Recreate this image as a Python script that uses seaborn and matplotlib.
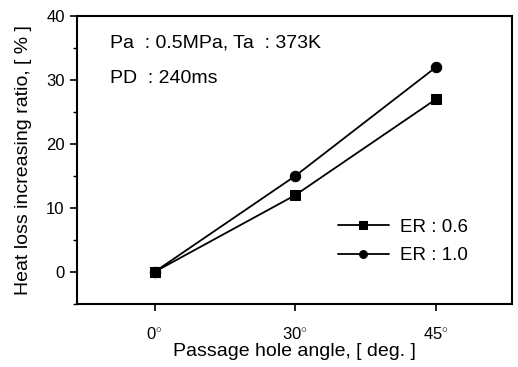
import matplotlib
matplotlib.use("Agg")
import matplotlib.pyplot as plt
from matplotlib.ticker import MultipleLocator
import seaborn as sns
import pandas as pd

angles = ["0$^{\\circ}$", "30$^{\\circ}$", "45$^{\\circ}$"]
er_06 = [0, 12, 27]
er_10 = [0, 15, 32]
series_labels = ["ER : 0.6", "ER : 1.0"]

sns.set_theme(style="ticks")
plt.rcParams["font.family"] = ["Liberation Sans", "DejaVu Sans"]
plt.rcParams["mathtext.fontset"] = "custom"
plt.rcParams["mathtext.rm"] = "Liberation Sans"

df = pd.DataFrame({
    "pos": list(range(len(angles))) * 2,
    "value": er_06 + er_10,
    "series": [series_labels[0]] * len(angles) + [series_labels[1]] * len(angles),
})

fig, ax = plt.subplots(figsize=(5.18, 3.67), dpi=100)
fig.subplots_adjust(left=0.149, right=0.988, top=0.956, bottom=0.172)

sns.lineplot(data=df, x="pos", y="value", hue="series", style="series",
             markers={series_labels[0]: "s", series_labels[1]: "o"}, dashes=False,
             palette={series_labels[0]: "black", series_labels[1]: "black"},
             markersize=7.5, linewidth=1.3, markeredgecolor="black", ax=ax)

ax.set_xlim(-0.55, 2.54)
ax.set_ylim(-5, 40)
ax.set_xticks(range(len(angles)))
ax.set_xticklabels(angles)
ax.yaxis.set_major_locator(MultipleLocator(10))
ax.yaxis.set_minor_locator(MultipleLocator(5))
ax.tick_params(axis="both", which="major", direction="out", length=5, width=1.2,
               labelsize=12, color="black", labelcolor="black")
ax.tick_params(axis="x", which="major", pad=11)
ax.tick_params(axis="y", which="major", pad=4)
ax.tick_params(axis="y", which="minor", direction="out", length=3, width=1, color="black")
for s in ax.spines.values():
    s.set_linewidth(1.5)
    s.set_color("black")

ax.set_xlabel("Passage hole angle, [ deg. ]", fontsize=14, color="black")
ax.set_ylabel("Heat loss increasing ratio, [ % ]", fontsize=14, color="black")
ax.xaxis.set_label_coords(0.5, -0.165)
ax.yaxis.set_label_coords(-0.124, 0.5)
ax.xaxis.label.set_va("center")
ax.yaxis.label.set_va("center")

ax.text(0.075, 0.906, "Pa  : 0.5MPa, Ta  : 373K", transform=ax.transAxes,
        fontsize=14, va="center", color="black")
ax.text(0.075, 0.785, "PD  : 240ms", transform=ax.transAxes,
        fontsize=14, va="center", color="black")

leg = ax.legend(loc="upper left", bbox_to_anchor=(0.6, 0.296), frameon=False, fontsize=13.5,
                handlelength=2.7, handletextpad=0.6, labelspacing=0.61, borderpad=0,
                borderaxespad=0, markerscale=0.75, title=None)
for t in leg.get_texts():
    t.set_color("black")

fig.savefig("out.png", dpi=100)
